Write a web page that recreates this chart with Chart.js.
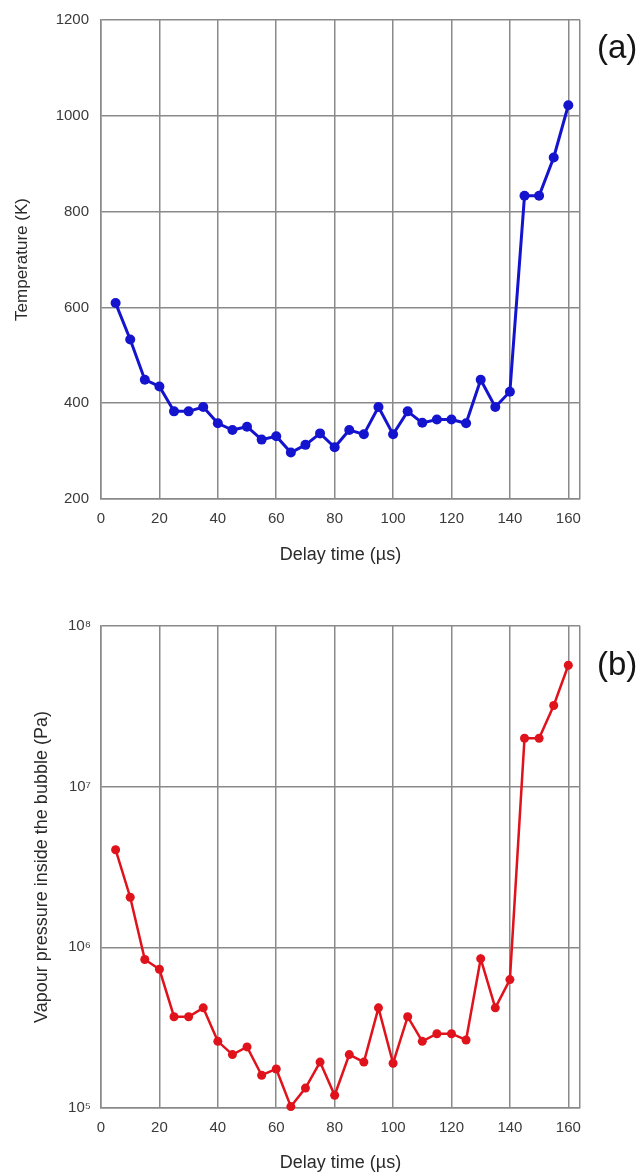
<!DOCTYPE html>
<html>
<head>
<meta charset="utf-8">
<script src="https://cdn.jsdelivr.net/npm/chart.js@4/dist/chart.umd.min.js"></script>
<style>
  html, body { margin: 0; padding: 0; background: #fff; }
  body { width: 643px; height: 1176px; position: relative; overflow: hidden;
         font-family: "Liberation Sans", Arial, sans-serif; }
  .panel { position: absolute; left: 0; width: 643px; }
  #wrapA { top: 0; height: 580px; }
  #wrapB { top: 590px; height: 586px; }
  .tag { position: absolute; font-size: 33px; color: #151515; line-height: 1; }
</style>
</head>
<body>
<div class="panel" id="wrapA"><canvas id="chartA" width="643" height="580"></canvas></div>
<div class="panel" id="wrapB"><canvas id="chartB" width="643" height="586"></canvas></div>
<div class="tag" style="left:597px; top:30px;">(a)</div>
<div class="tag" style="left:597px; top:647px;">(b)</div>
<script>
// Delay times (µs) of each measurement
const delayTime = [5, 10, 15, 20, 25, 30, 35, 40, 45, 50, 55, 60, 65, 70, 75, 80,
                   85, 90, 95, 100, 105, 110, 115, 120, 125, 130, 135, 140, 145, 150, 155, 160];

// (a) bubble temperature, K
const temperature = [609, 533, 449, 435, 383, 383, 392, 358, 344, 351, 324, 331, 297, 313, 337, 308,
                     344, 335, 392, 335, 383, 359, 366, 366, 358, 449, 392, 424, 833, 833, 913, 1022];

// (b) vapour pressure inside the bubble, Pa
const vapourPressure = [4.05e6, 2.05e6, 8.4e5, 7.3e5, 3.7e5, 3.7e5, 4.2e5, 2.6e5, 2.15e5, 2.4e5, 1.6e5, 1.75e5,
                        1.02e5, 1.33e5, 1.93e5, 1.2e5, 2.15e5, 1.93e5, 4.2e5, 1.9e5, 3.7e5, 2.6e5, 2.9e5, 2.9e5,
                        2.65e5, 8.5e5, 4.2e5, 6.3e5, 2.0e7, 2.0e7, 3.2e7, 5.7e7];

// Axis ticks
const timeTicks = [0, 20, 40, 60, 80, 100, 120, 140, 160];
const timeAxisMax = 164;
const tempTicks = [200, 400, 600, 800, 1000, 1200];
const pressureTicks = [1e5, 1e6, 1e7, 1e8];
const pressureTickLabels = ['10\u2075', '10\u2076', '10\u2077', '10\u2078'];

const FONT = '"Liberation Sans", Arial, sans-serif';
const GRID = '#8a8a8a';
const TICK_COLOR = '#3a3a3a';
const TITLE_COLOR = '#2a2a2a';

function pairs(xs, ys) { return xs.map((x, i) => ({ x: x, y: ys[i] })); }

function xAxis(areaBottomGap, tickPad, titlePadBottom) {
  return {
    type: 'linear',
    min: 0,
    max: timeAxisMax,
    afterBuildTicks: s => { s.ticks = timeTicks.concat([timeAxisMax]).map(v => ({ value: v })); },
    afterFit: s => { s.height = areaBottomGap; s.paddingLeft = 0; s.paddingRight = 0; },
    grid: { color: GRID, lineWidth: 1.5, drawTicks: false },
    border: { color: GRID, width: 1.5 },
    ticks: {
      padding: tickPad,
      color: TICK_COLOR,
      font: { family: FONT, size: 15 },
      maxRotation: 0,
      autoSkip: false,
      callback: v => (timeTicks.includes(v) ? String(v) : '')
    },
    title: {
      display: true,
      text: 'Delay time (\u00b5s)',
      color: TITLE_COLOR,
      font: { family: FONT, size: 18 },
      padding: { top: 0, bottom: titlePadBottom }
    }
  };
}

function commonOptions(padTop, padRight) {
  return {
    responsive: false,
    animation: false,
    devicePixelRatio: 1,
    layout: { padding: { top: padTop, right: padRight, left: 0, bottom: 0 } },
    plugins: { legend: { display: false }, tooltip: { enabled: false } }
  };
}

// (a) Temperature
new Chart(document.getElementById('chartA'), {
  type: 'line',
  data: {
    datasets: [{
      data: pairs(delayTime, temperature),
      borderColor: '#1414cf',
      backgroundColor: '#1414cf',
      borderWidth: 3,
      pointRadius: 5,
      pointHoverRadius: 5,
      pointBorderWidth: 0,
      tension: 0,
      clip: false
    }]
  },
  options: Object.assign(commonOptions(20, 63), {
    scales: {
      x: xAxis(81, 11, 14),
      y: {
        type: 'linear',
        min: 200,
        max: 1200,
        afterBuildTicks: s => { s.ticks = tempTicks.map(v => ({ value: v })); },
        afterFit: s => { s.width = 101; s.paddingTop = 0; s.paddingBottom = 0; },
        grid: { color: GRID, lineWidth: 1.5, drawTicks: false },
        border: { color: GRID, width: 1.5 },
        ticks: {
          padding: 12,
          color: TICK_COLOR,
          font: { family: FONT, size: 15 },
          callback: v => String(v)
        },
        title: {
          display: true,
          text: 'Temperature (K)',
          color: TITLE_COLOR,
          font: { family: FONT, size: 17 },
          padding: { top: 12, bottom: 0 }
        }
      }
    }
  })
});

// (b) Vapour pressure, logarithmic axis
new Chart(document.getElementById('chartB'), {
  type: 'line',
  data: {
    datasets: [{
      data: pairs(delayTime, vapourPressure),
      borderColor: '#e0121c',
      backgroundColor: '#e0121c',
      borderWidth: 2.5,
      pointRadius: 4.5,
      pointHoverRadius: 4.5,
      pointBorderWidth: 0,
      tension: 0,
      clip: false
    }]
  },
  options: Object.assign(commonOptions(36, 63), {
    scales: {
      x: xAxis(68, 11, 2),
      y: {
        type: 'logarithmic',
        min: 1e5,
        max: 1e8,
        afterBuildTicks: s => { s.ticks = pressureTicks.map(v => ({ value: v })); },
        afterFit: s => { s.width = 101; s.paddingTop = 0; s.paddingBottom = 0; },
        grid: { color: GRID, lineWidth: 1.5, drawTicks: false },
        border: { color: GRID, width: 1.5 },
        ticks: {
          padding: 10,
          color: TICK_COLOR,
          font: { family: FONT, size: 15 },
          callback: v => {
            const i = pressureTicks.indexOf(v);
            return i >= 0 ? pressureTickLabels[i] : '';
          }
        },
        title: {
          display: true,
          text: 'Vapour pressure inside the bubble (Pa)',
          color: TITLE_COLOR,
          font: { family: FONT, size: 18 },
          padding: { top: 31, bottom: 0 }
        }
      }
    }
  })
});
</script>
</body>
</html>
